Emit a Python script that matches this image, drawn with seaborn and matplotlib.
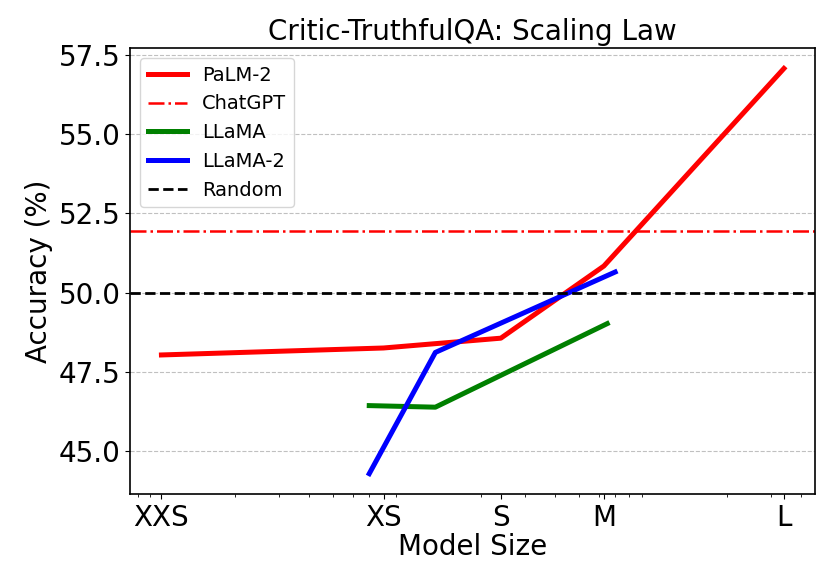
import numpy as np
import pandas as pd
import seaborn as sns
import matplotlib
matplotlib.use("Agg")
import matplotlib.pyplot as plt

# Model sizes (billions of params, log axis)
size_labels = ["XXS", "XS", "S", "M", "L"]
size_ticks = [1, 8, 24, 63, 340]

palm2_size = [1, 8, 24, 63, 340]
palm2_acc = [48.03, 48.25, 48.56, 50.84, 57.08]

llama_size = [7, 13, 65]
llama_acc = [46.43, 46.38, 49.02]

llama2_size = [7, 13, 70]
llama2_acc = [44.28, 48.11, 50.65]

chatgpt_acc = 51.96
random_acc = 50.0

# keep matplotlib's plain look
sns.reset_orig()
plt.rcParams["font.family"] = ["DejaVu Sans"]

fig, ax = plt.subplots(figsize=(8.3, 5.88), dpi=100)
fig.subplots_adjust(left=0.157, right=0.982, top=0.918, bottom=0.160)

# Main series
sns.lineplot(x=palm2_size, y=palm2_acc, color="red", linewidth=3.6, label="PaLM-2", ax=ax)
ax.axhline(chatgpt_acc, color="red", linestyle="-.", linewidth=1.8, label="ChatGPT")
sns.lineplot(x=llama_size, y=llama_acc, color="green", linewidth=3.6, label="LLaMA", ax=ax)
sns.lineplot(x=llama2_size, y=llama2_acc, color="blue", linewidth=3.6, label="LLaMA-2", ax=ax)
ax.axhline(random_acc, color="black", linestyle="--", linewidth=2.0, label="Random")

ax.set_xscale("log")
ax.set_xticks(size_ticks)
ax.set_xticklabels(size_labels)
ax.set_yticks([45.0, 47.5, 50.0, 52.5, 55.0, 57.5])
ax.tick_params(axis="both", labelsize=20)

ax.yaxis.grid(True, linestyle="--", color="#c0c0c0", linewidth=0.8)
ax.xaxis.grid(False)

ax.set_xlabel("Model Size", fontsize=20, labelpad=1)
ax.set_ylabel("Accuracy (%)", fontsize=20)
ax.set_title("Critic-TruthfulQA: Scaling Law", fontsize=20)

for s in ax.spines.values():
    s.set_linewidth(1.2)

ax.legend(loc="upper left", fontsize=14)

fig.savefig("out.png", dpi=100)
